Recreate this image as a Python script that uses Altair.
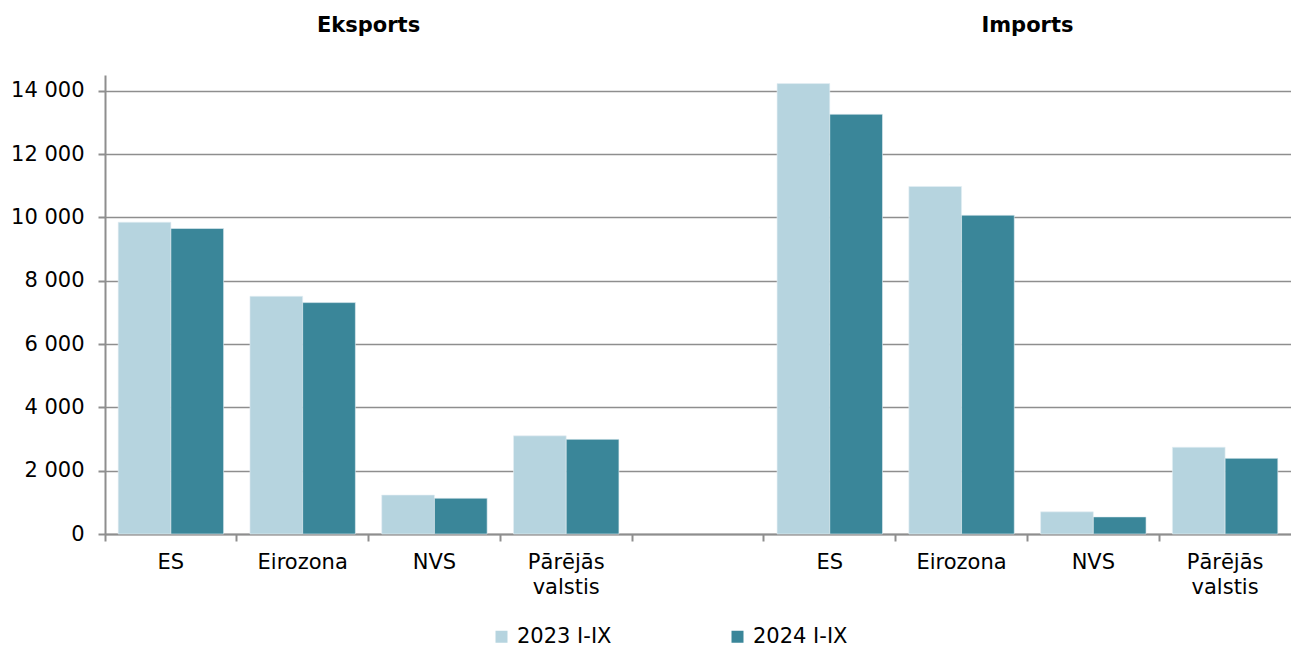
import altair as alt
import pandas as pd

categories = ["ES", "Eirozona", "NVS", "Pārējās valstis"]
groups = ["Eksports", "Imports"]
years = ["2023 I-IX", "2024 I-IX"]

exp_2023 = [9850, 7510, 1230, 3100]
exp_2024 = [9650, 7310, 1130, 2990]
imp_2023 = [14230, 10980, 700, 2740]
imp_2024 = [13260, 10070, 540, 2390]

y_ticks = [0, 2000, 4000, 6000, 8000, 10000, 12000, 14000]
colors = ["#b6d4df", "#3a8699"]

rows = []
for g, v23, v24 in [("Eksports", exp_2023, exp_2024), ("Imports", imp_2023, imp_2024)]:
    for c, a, b in zip(categories, v23, v24):
        rows.append({"key": f"{g}|{c}", "year": years[0], "value": a})
        rows.append({"key": f"{g}|{c}", "year": years[1], "value": b})
df = pd.DataFrame(rows)

x_domain = [f"Eksports|{c}" for c in categories] + ["gap|"] + [f"Imports|{c}" for c in categories]

titles = pd.DataFrame({"key": ["Eksports|NVS", "Imports|NVS"], "label": groups})

GRID = "#8e8e8e"
FONT = "DejaVu Sans"

x_enc = alt.X(
    "key:N",
    scale=alt.Scale(domain=x_domain, paddingInner=0, paddingOuter=0),
    sort=x_domain,
    axis=alt.Axis(
        title=None,
        labelExpr="split(split(datum.value, '|')[1], ' ')",
        labelAngle=0,
        labelFontSize=21,
        labelColor="#000000",
        labelPadding=10,
        labelLineHeight=25,
        bandPosition=0,
        ticks=True,
        tickSize=7,
        tickColor=GRID,
        tickWidth=2,
        domainColor=GRID,
        domainWidth=2,
        grid=False,
    ),
)

bars = alt.Chart(df).mark_bar(stroke="#e4eff3", strokeWidth=0.6).encode(
    x=x_enc,
    xOffset=alt.XOffset("year:N", scale=alt.Scale(domain=years, paddingOuter=0.25, paddingInner=0)),
    y=alt.Y(
        "value:Q",
        scale=alt.Scale(domain=[0, 14500], nice=False),
        axis=alt.Axis(
            title=None,
            values=y_ticks,
            labelExpr="replace(format(datum.value, ','), ',', ' ')",
            labelFontSize=21,
            labelColor="#000000",
            labelPadding=14,
            tickSize=7,
            tickColor=GRID,
            tickWidth=2,
            domainColor=GRID,
            domainWidth=2,
            grid=True,
            gridColor=GRID,
            gridWidth=1.6,
        ),
    ),
    color=alt.Color(
        "year:N",
        scale=alt.Scale(domain=years, range=colors),
        legend=alt.Legend(
            title=None,
            orient="none",
            legendX=386,
            legendY=551,
            direction="horizontal",
            symbolType="square",
            symbolSize=144,
            symbolStrokeWidth=0,
            labelFontSize=21,
            labelColor="#000000",
            labelOffset=5,
            columnPadding=115,
            padding=0,
        ),
    ),
)

title_text = alt.Chart(titles).mark_text(
    fontSize=21, fontWeight="bold", font=FONT, color="#000000", baseline="middle", align="center"
).encode(
    x=alt.X("key:N", bandPosition=0),
    y=alt.value(-49),
    text="label:N",
)

chart = alt.layer(bars, title_text).properties(
    width=1186,
    height=459,
    autosize=alt.AutoSizeParams(type="none"),
    padding={"left": 97, "top": 67, "right": 0, "bottom": 115},
).configure(font=FONT).configure_view(stroke=None)

chart.save("out.html", embed_options={"renderer": "svg", "actions": False})
